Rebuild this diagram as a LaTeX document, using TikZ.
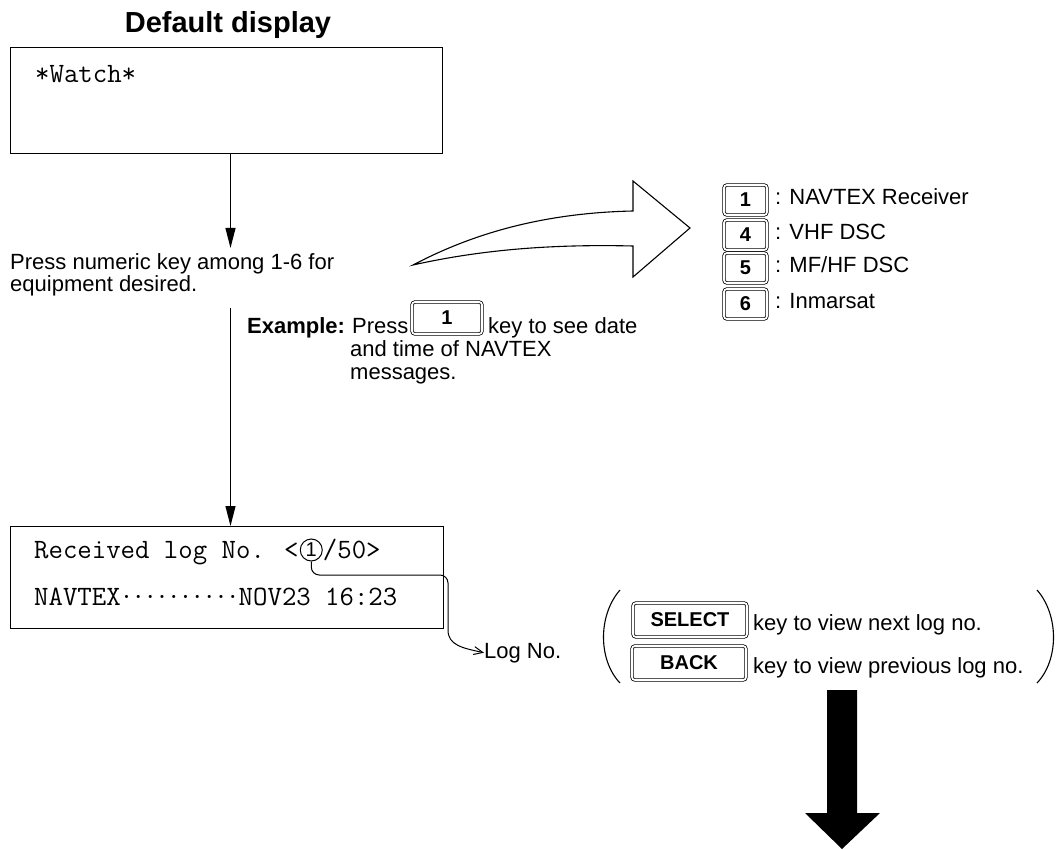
\documentclass[tikz,border=0pt]{standalone}
\usepackage{fontspec}
\setmainfont{Liberation Sans}
\usetikzlibrary{arrows.meta,calc}
\newcommand{\navdot}{\makebox[11.8pt]{\textperiodcentered}}
\begin{document}
\begin{tikzpicture}[x=1pt,y=-1pt,
  txt/.style={font=\fontsize{22}{22}\selectfont, inner sep=0pt, anchor=base west},
  boldtxt/.style={font=\bfseries\fontsize{22}{22}\selectfont, inner sep=0pt, anchor=base west},
  mono/.style={font=\ttfamily\fontsize{28}{28}\selectfont, inner sep=0pt, anchor=base west},
  screen/.style={draw, line width=1.3pt, inner sep=0pt, anchor=north west},
  keycap/.style={draw, double, double distance=1.8pt, line width=0.8pt, rounded corners=3pt, inner sep=0pt, font=\bfseries\fontsize{20}{20}\selectfont},
  flow/.style={line width=1.1pt, -{Triangle[length=20pt,width=10pt]}},
  thinline/.style={line width=1.1pt},
]
\useasboundingbox (0,0) rectangle (1058,850);

% title and default screen
\node[font=\bfseries\fontsize{29}{29}\selectfont, anchor=base, inner sep=0pt] (title) at (228,33) {Default display};
\node[screen, minimum width=432pt, minimum height=106pt] (scr1) at (10,47) {};
\node[mono] (watch) at (35,83) {*Watch*};

\coordinate (tip1) at (230.5,248);
\draw[flow] (scr1.south -| tip1) -- (tip1);

\node[txt] (press1) at (10,270) {Press numeric key among 1-6 for};
\node[txt] (press2) at (10,292) {equipment desired.};

% second screen
\node[screen, minimum width=433pt, minimum height=102pt] (scr2) at (10,526) {};
\coordinate (start2) at (230.5,308);
\draw[flow] (start2) -- (start2 |- scr2.north);

% example
\node[boldtxt] (ex) at (247,334) {Example:};
\node[txt] (express) at (352,334) {Press};
\node[keycap, minimum width=70pt, minimum height=32pt] (k1ex) at (447,318) {1};
\node[txt] (exkey) at (488,334) {key to see date};
\node[txt] (ex2) at (350,357) {and time of NAVTEX};
\node[txt] (ex3) at (350,380) {messages.};

% hollow curved arrow
\draw[thinline, line join=miter] (413,265) .. controls (470,235) and (540,213) .. (633,211)
  -- (633,181) -- (690,228) -- (633,277) -- (633,246)
  .. controls (550,244) and (480,250) .. (413,265) -- cycle;

% equipment keys
\node[keycap, minimum width=43pt, minimum height=30pt] (kn1) at (745.5,200) {1};
\node[keycap, minimum width=43pt, minimum height=30pt] (kn4) at (745.5,235) {4};
\node[keycap, minimum width=43pt, minimum height=30pt] (kn5) at (745.5,268) {5};
\node[keycap, minimum width=43pt, minimum height=30pt] (kn6) at (745.5,304) {6};
\node[txt] (l1) at (775,205) {: NAVTEX Receiver};
\node[txt] (l4) at (775,240) {: VHF DSC};
\node[txt] (l5) at (775,273) {: MF/HF DSC};
\node[txt] (l6) at (775,309) {: Inmarsat};

% log screen contents
\node[mono] (rec) at (34,558) {Received log No. <};
\node[draw, circle, line width=1pt, minimum size=22pt, inner sep=0pt, font=\fontsize{20}{20}\selectfont, anchor=west] (c1) at ($(rec.base east)+(1,-8)$) {1};
\node[mono] (fifty) at (c1.east |- rec.base) {/50>};
\node[mono] (nav) at (34,605) {NAVTEX\navdot\navdot\navdot\navdot\navdot\navdot\navdot\navdot\navdot\navdot NOV23 16:23};

\node[txt] (logno) at (484,658) {Log No.};
\draw[line width=1pt, rounded corners=8pt] (c1.south) |- (448,575) -- (448,630) coordinate (lk);
\draw[line width=1pt, -{Straight Barb[length=9pt,width=8pt]}] (lk) .. controls (448,645) and (462,648) .. (logno.west);

% select / back
\node[keycap, minimum width=114pt, minimum height=34pt] (sel) at (690,620) {SELECT};
\node[keycap, minimum width=114pt, minimum height=34pt] (back) at (689,663) {BACK};
\node[txt] (seltxt) at (753,630) {key to view next log no.};
\node[txt] (backtxt) at (753,673) {key to view previous log no.};
\draw[thinline] (620,590) .. controls (598,615) and (598,660) .. (620,683);
\draw[thinline] (1037,590) .. controls (1059,615) and (1059,660) .. (1037,683);

% big black arrow
\fill (827,690) -- (857,690) -- (857,813) -- (880,813) -- (842,849) -- (805,813) -- (827,813) -- cycle;
\end{tikzpicture}
\end{document}
